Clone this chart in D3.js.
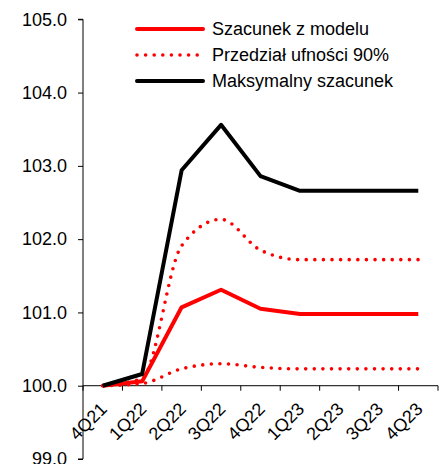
<!DOCTYPE html>
<html>
<head>
<meta charset="utf-8">
<script src="https://cdn.jsdelivr.net/npm/d3@7"></script>
<style>
  body { margin: 0; background: #fff; }
  svg { display: block; font-family: "Liberation Sans", Arial, sans-serif; }
</style>
</head>
<body>
<script>
// quarters on the x axis
var quarters = ["4Q21", "1Q22", "2Q22", "3Q22", "4Q22", "1Q23", "2Q23", "3Q23", "4Q23"];

// series
var estimate = [100.0, 100.06, 101.07, 101.31, 101.05, 100.98, 100.98, 100.98, 100.98];
var upperBand = [100.0, 100.10, 101.91, 102.27, 101.85, 101.72, 101.72, 101.72, 101.72];
var lowerBand = [100.0, 100.03, 100.23, 100.30, 100.25, 100.23, 100.23, 100.23, 100.23];
var maxEstimate = [100.0, 100.16, 102.94, 103.56, 102.86, 102.66, 102.66, 102.66, 102.66];

var yTicks = [99, 100, 101, 102, 103, 104, 105];
var legendLabels = ["Szacunek z modelu", "Przedział ufności 90%", "Maksymalny szacunek"];

var W = 446, H = 464;

var x = d3.scaleBand()
    .domain(quarters)
    .range([83, 438]);

var y = d3.scaleLinear()
    .domain([99, 105])
    .range([459, 19.3]);

var svg = d3.select("body").append("svg")
    .attr("width", W)
    .attr("height", H);

// y axis
var yAxis = svg.append("g")
    .attr("transform", "translate(83,0)")
    .call(d3.axisLeft(y).tickValues(yTicks).tickSize(5).tickPadding(11)
        .tickFormat(d3.format(".1f")));
yAxis.select(".domain").attr("d", "M0," + y(105) + "V" + y(99) + "M-5," + y(105) + "H0M-5," + y(99) + "H0");
yAxis.selectAll("text").style("font-size", "18px").attr("fill", "#000");
yAxis.selectAll("line, path").attr("stroke", "#000");

// x axis sits at 100
var xAxis = svg.append("g")
    .attr("transform", "translate(0," + y(100) + ")");
xAxis.append("line")
    .attr("x1", x.range()[0]).attr("x2", x.range()[1])
    .attr("stroke", "#000");
xAxis.selectAll(".tk")
    .data(quarters.concat(["end"]))
    .enter().append("line")
    .attr("x1", function(d, i) { return x.range()[0] + i * x.step(); })
    .attr("x2", function(d, i) { return x.range()[0] + i * x.step(); })
    .attr("y1", 0).attr("y2", 5)
    .attr("stroke", "#000");
xAxis.selectAll(".lbl")
    .data(quarters)
    .enter().append("text")
    .attr("text-anchor", "end")
    .attr("dy", "0.35em")
    .attr("transform", function(d) {
      return "translate(" + (x(d) + x.bandwidth() / 2 + 1) + ",20)rotate(-45)";
    })
    .style("font-size", "18px")
    .text(function(d) { return d; });

var cx = function(d, i) { return x(quarters[i]) + x.bandwidth() / 2; };
var straight = d3.line().x(cx).y(function(d) { return y(d); });
var smooth = d3.line().x(cx).y(function(d) { return y(d); }).curve(d3.curveMonotoneX);

function dotted(sel) {
  return sel.attr("fill", "none").attr("stroke", "#ff0000")
    .attr("stroke-width", 3.6).attr("stroke-linecap", "round")
    .attr("stroke-dasharray", "0 8.6");
}

svg.append("path").datum(estimate)
    .attr("d", straight)
    .attr("fill", "none").attr("stroke", "#ff0000").attr("stroke-width", 4)
    .attr("stroke-linejoin", "round");
svg.append("path").datum(upperBand).attr("d", smooth).call(dotted);
svg.append("path").datum(lowerBand).attr("d", smooth).call(dotted);
svg.append("path").datum(maxEstimate)
    .attr("d", straight)
    .attr("fill", "none").attr("stroke", "#000").attr("stroke-width", 4)
    .attr("stroke-linejoin", "round");

// legend
var legend = svg.append("g");
legendLabels.forEach(function(lab, i) {
  var ly = 29 + i * 26;
  var ln = legend.append("line")
      .attr("x1", 137).attr("x2", 203)
      .attr("y1", ly).attr("y2", ly);
  if (i === 1) {
    ln.call(dotted);
  } else {
    ln.attr("stroke", i === 0 ? "#ff0000" : "#000").attr("stroke-width", 4)
      .attr("stroke-linecap", "round");
  }
  legend.append("text")
      .attr("x", 212).attr("y", ly)
      .attr("dy", "0.35em")
      .style("font-size", "18px")
      .text(lab);
});
</script>
</body>
</html>
